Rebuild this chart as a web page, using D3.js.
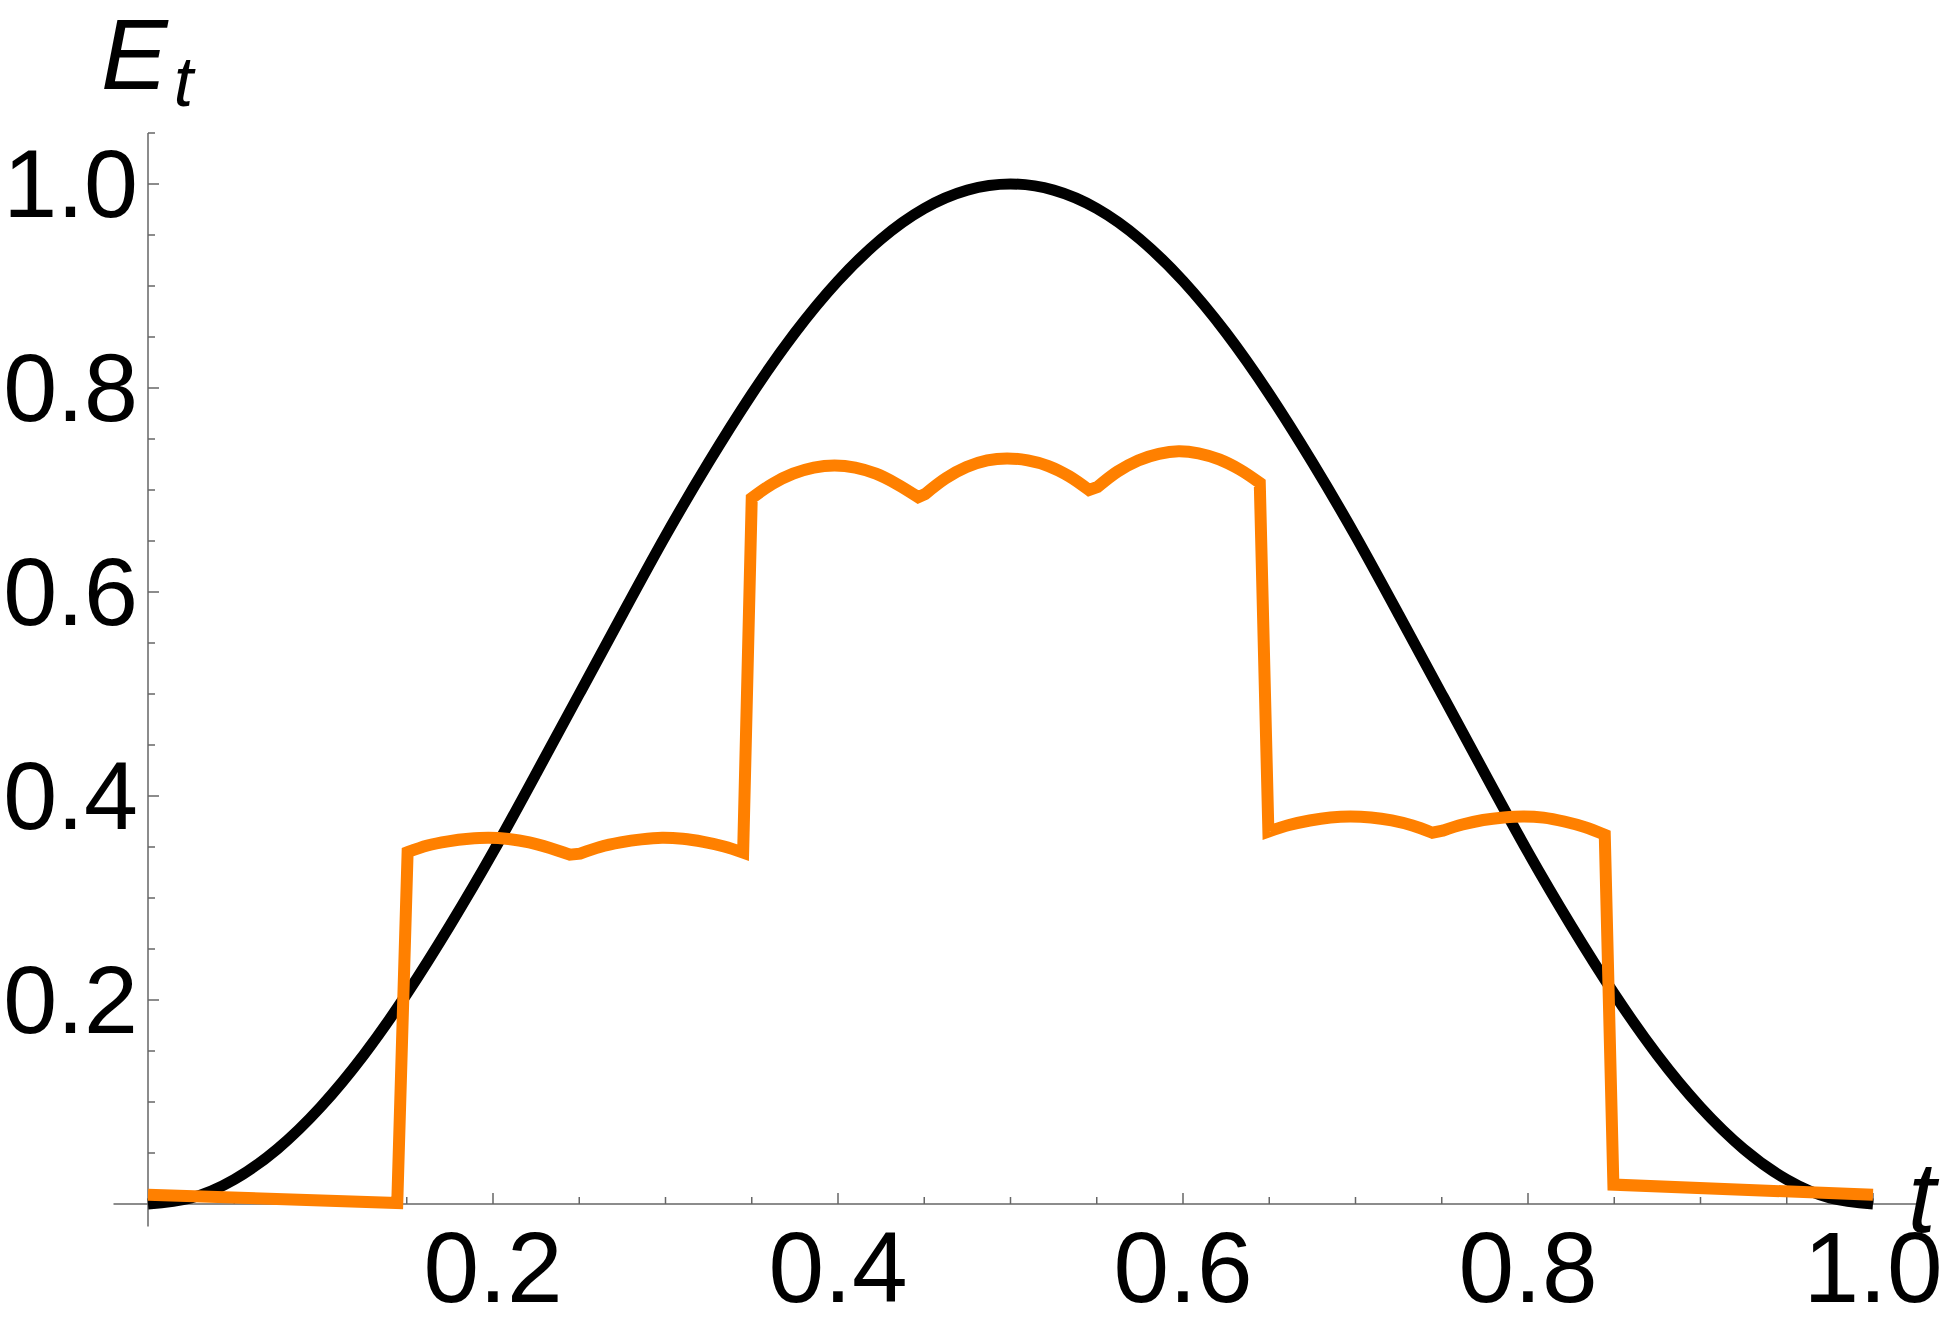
<!DOCTYPE html>
<html>
<head>
<meta charset="utf-8">
<script src="https://cdn.jsdelivr.net/npm/d3@7"></script>
<style>
  body { margin: 0; background: #fff; }
  text { font-family: "Liberation Sans", Arial, sans-serif; }
</style>
</head>
<body>
<script>
const width = 1945;
const height = 1325;

// black curve, sampled every 0.025
const blackT = [0, 0.025, 0.05, 0.075, 0.1, 0.125, 0.15, 0.175, 0.2, 0.225, 0.25, 0.275, 0.3, 0.325, 0.35, 0.375, 0.4, 0.425, 0.45, 0.475, 0.5,
    0.525, 0.55, 0.575, 0.6, 0.625, 0.65, 0.675, 0.7, 0.725, 0.75, 0.775, 0.8, 0.825, 0.85, 0.875, 0.9, 0.925, 0.95, 0.975, 1];
const blackE = [0, 0.006, 0.024, 0.054, 0.095, 0.146, 0.206, 0.273, 0.345, 0.422, 0.5, 0.578, 0.655, 0.727, 0.794, 0.854, 0.905, 0.946, 0.976, 0.994, 1,
    0.994, 0.976, 0.946, 0.905, 0.854, 0.794, 0.727, 0.655, 0.578, 0.5, 0.422, 0.345, 0.273, 0.206, 0.146, 0.095, 0.054, 0.024, 0.006, 0];

// orange curve, read piece by piece (low flats, arcs); pieces are joined by straight jumps
const orangeT = [
    0, 0.1445,
    0.1505, 0.162, 0.174, 0.186, 0.1975, 0.209, 0.221, 0.233, 0.2445,
    0.2505, 0.262, 0.274, 0.286, 0.298, 0.31, 0.322, 0.334, 0.345,
    0.35, 0.362, 0.374, 0.386, 0.398, 0.41, 0.422, 0.434, 0.4465,
    0.4505, 0.4625, 0.4745, 0.4865, 0.498, 0.51, 0.522, 0.534, 0.5455,
    0.5505, 0.562, 0.574, 0.586, 0.5975, 0.609, 0.621, 0.633, 0.6445,
    0.6495, 0.6615, 0.6735, 0.6855, 0.697, 0.709, 0.721, 0.733, 0.7445,
    0.7505, 0.762, 0.774, 0.786, 0.7975, 0.809, 0.821, 0.833, 0.8445,
    0.8495, 1];
const orangeE = [
    0.009, 0.001,
    0.345, 0.3515, 0.3555, 0.358, 0.359, 0.3578, 0.3545, 0.349, 0.3425,
    0.3435, 0.35, 0.3545, 0.3575, 0.359, 0.358, 0.355, 0.3505, 0.3445,
    0.692, 0.706, 0.716, 0.722, 0.724, 0.722, 0.716, 0.706, 0.693,
    0.696, 0.7115, 0.7225, 0.729, 0.731, 0.729, 0.7235, 0.7135, 0.7,
    0.703, 0.718, 0.729, 0.7355, 0.738, 0.736, 0.73, 0.72, 0.707,
    0.365, 0.3715, 0.376, 0.379, 0.38, 0.379, 0.376, 0.371, 0.364,
    0.366, 0.372, 0.3765, 0.379, 0.38, 0.3788, 0.375, 0.3695, 0.362,
    0.019, 0.009];
// [first, last] index of every smooth piece
const orangePieces = [[0, 1], [2, 10], [11, 19], [20, 28], [29, 37], [38, 46], [47, 55], [56, 64], [65, 66]];

const majorTicks = [0.2, 0.4, 0.6, 0.8, 1.0];
const minorX = d3.range(1, 21).map(i => i * 0.05);
const minorY = d3.range(1, 22).map(i => i * 0.05);
const tickLabels = ["0.2", "0.4", "0.6", "0.8", "1.0"];

const svg = d3.select("body").append("svg")
    .attr("width", width)
    .attr("height", height);

svg.append("rect").attr("width", width).attr("height", height).attr("fill", "#fff");

const x = d3.scaleLinear().domain([0, 1]).range([148, 1873]);
const y = d3.scaleLinear().domain([0, 1]).range([1204, 184]);

const axisColor = "#666";
const isMajor = d => Math.abs(d * 5 - Math.round(d * 5)) < 1e-6;

// axis lines
svg.append("line")
    .attr("x1", x(-0.02)).attr("x2", x(1.025))
    .attr("y1", y(0)).attr("y2", y(0))
    .attr("stroke", axisColor).attr("stroke-width", 1.5);
svg.append("line")
    .attr("x1", x(0)).attr("x2", x(0))
    .attr("y1", y(-0.022)).attr("y2", y(1.05))
    .attr("stroke", axisColor).attr("stroke-width", 1.5);

// x ticks (drawn upward)
svg.append("g").selectAll("line")
    .data(minorX)
    .enter().append("line")
    .attr("x1", d => x(d)).attr("x2", d => x(d))
    .attr("y1", y(0))
    .attr("y2", d => y(0) - (isMajor(d) ? 11 : 7))
    .attr("stroke", axisColor).attr("stroke-width", 1.5);

// y ticks (drawn rightward)
svg.append("g").selectAll("line")
    .data(minorY)
    .enter().append("line")
    .attr("x1", x(0))
    .attr("x2", d => x(0) + (isMajor(d) ? 11 : 7))
    .attr("y1", d => y(d)).attr("y2", d => y(d))
    .attr("stroke", axisColor).attr("stroke-width", 1.5);

// tick labels
svg.append("g").selectAll("text")
    .data(majorTicks)
    .enter().append("text")
    .attr("x", d => x(d))
    .attr("y", y(0) + 98)
    .attr("text-anchor", "middle")
    .attr("font-size", 100)
    .text((d, i) => tickLabels[i]);

svg.append("g").selectAll("text")
    .data(majorTicks)
    .enter().append("text")
    .attr("x", x(0) - 10)
    .attr("y", d => y(d) + 33)
    .attr("text-anchor", "end")
    .attr("font-size", 97)
    .text((d, i) => tickLabels[i]);

// curves
const smooth = d3.line().curve(d3.curveCatmullRom.alpha(0.5));

svg.append("path")
    .attr("d", d3.line().curve(d3.curveNatural)(blackT.map((t, i) => [x(t), y(blackE[i])])))
    .attr("fill", "none")
    .attr("stroke", "#000")
    .attr("stroke-width", 11);

// one path: smooth pieces joined with straight segments
const orangeD = orangePieces.map(([a, b], k) => {
    const pts = d3.range(a, b + 1).map(i => [x(orangeT[i]), y(orangeE[i])]);
    const d = smooth(pts);
    return k === 0 ? d : "L" + d.slice(1);
}).join("");

svg.append("path")
    .attr("d", orangeD)
    .attr("fill", "none")
    .attr("stroke", "#ff8000")
    .attr("stroke-width", 12)
    .attr("stroke-linejoin", "miter")
    .attr("stroke-miterlimit", 10);

// axis labels
const yLab = svg.append("text")
    .attr("x", 101).attr("y", 89)
    .attr("font-size", 100)
    .attr("font-style", "italic");
yLab.append("tspan").text("E");
yLab.append("tspan").attr("dx", 6).attr("dy", 17).attr("font-size", 70).text("t");

svg.append("text")
    .attr("x", 1908).attr("y", 1232)
    .attr("font-size", 100)
    .attr("font-style", "italic")
    .text("t");
</script>
</body>
</html>
